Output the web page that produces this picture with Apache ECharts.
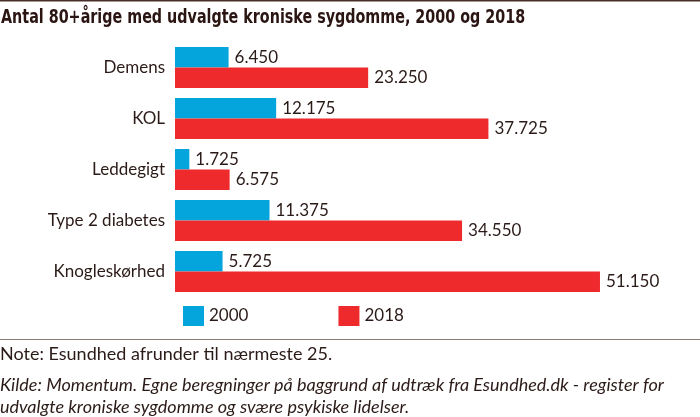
<!DOCTYPE html>
<html><head><meta charset="utf-8">
<script src="https://cdn.jsdelivr.net/npm/echarts@6/dist/echarts.min.js"></script>
<style>html,body{margin:0;padding:0;background:#fff}#c{width:700px;height:417px}</style>
</head><body><div id="c"></div>
<script>
const categories = ['Demens', 'KOL', 'Leddegigt', 'Type 2 diabetes', 'Knogleskørhed'];
const values2000 = [6450, 12175, 1725, 11375, 5725];
const values2018 = [23250, 37725, 6575, 34550, 51150];
const seriesNames = ['2000', '2018'];
const titleText = 'Antal 80+årige med udvalgte kroniske sygdomme, 2000 og 2018';
const noteText = 'Note: Esundhed afrunder til nærmeste 25.';
const sourceLines = ['Kilde: Momentum. Egne beregninger på baggrund af udtræk fra Esundhed.dk - register for', 'udvalgte kroniske sygdomme og svære psykiske lidelser.'];

const TXT = '#2b1b18';
const FONT = 'Lato, "Open Sans", sans-serif';
const fmt = v => String(v).replace(/\B(?=(\d{3})+(?!\d))/g, '.');

const chart = echarts.init(document.getElementById('c'), null, {renderer: 'canvas'});
const lbl = {show: true, position: 'right', distance: 6, color: TXT, fontFamily: FONT, fontSize: 17,
  formatter: p => fmt(p.value)};
chart.setOption({
  animation: false,
  backgroundColor: '#fff',
  legend: {data: seriesNames, left: 178, top: 301, itemWidth: 21, itemHeight: 20, itemGap: 90, icon: 'rect',
    textStyle: {color: TXT, fontFamily: FONT, fontSize: 17}},
  grid: {left: 175, right: 26.5, top: 42, height: 255},
  xAxis: {type: 'value', min: 0, max: 60000, show: false},
  yAxis: {type: 'category', data: categories, inverse: true,
    axisLine: {show: false}, axisTick: {show: false},
    axisLabel: {margin: 10, color: TXT, fontFamily: FONT, fontSize: 17}},
  series: [
    {name: seriesNames[0], type: 'bar', data: values2000, barWidth: 20.5, barGap: '0%',
     itemStyle: {color: '#04a5dc'}, label: lbl},
    {name: seriesNames[1], type: 'bar', data: values2018, barWidth: 20.5, barGap: '0%',
     itemStyle: {color: '#ee2a2c'}, label: lbl}
  ],
  graphic: [
    {type: 'rect', shape: {x: 0, y: 0, width: 700, height: 1.5}, style: {fill: '#4a302b'}},
    {type: 'text', x: 1, y: 9, scaleX: 0.838, style: {text: titleText, fill: '#2a1512',
      font: 'bold 19px "DejaVu Sans Condensed", sans-serif'}},
    {type: 'rect', shape: {x: 0, y: 339, width: 700, height: 1}, style: {fill: '#8a7a76'}},
    {type: 'text', x: 0, y: 345, style: {text: noteText, fill: TXT, font: '18px ' + FONT}},
    {type: 'text', x: 0, y: 374, style: {text: sourceLines.join('\n'), fill: TXT, lineHeight: 22, font: 'italic 18px ' + FONT}}
  ]
});
</script></body></html>
